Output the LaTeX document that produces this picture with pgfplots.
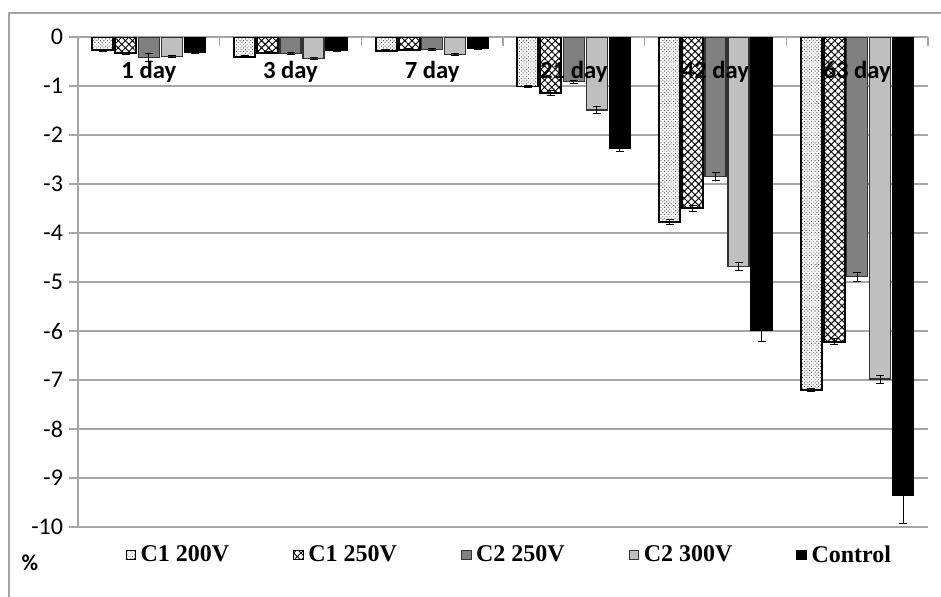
\documentclass[border=0pt]{standalone}
\usepackage{pgfplots}
\pgfplotsset{compat=1.18}
\usepackage{pgfplotstable}
\usetikzlibrary{patterns.meta}
\usepackage{fontspec}
\setmainfont{Carlito}
\newfontfamily\legendfont{Liberation Serif}

\pgfplotstableread{
x y e
0 -0.27 0.02
1 -0.40 0.02
2 -0.28 0.02
3 -1.01 0.02
4 -3.78 0.05
5 -7.21 0.03
}\dataA
\pgfplotstableread{
x y e
0 -0.33 0.02
1 -0.32 0.02
2 -0.26 0.02
3 -1.14 0.05
4 -3.49 0.06
5 -6.22 0.06
}\dataB
\pgfplotstableread{
x y e
0 -0.41 0.08
1 -0.34 0.02
2 -0.25 0.02
3 -0.91 0.03
4 -2.85 0.08
5 -4.89 0.09
}\dataC
\pgfplotstableread{
x y e
0 -0.39 0.02
1 -0.44 0.02
2 -0.36 0.02
3 -1.49 0.07
4 -4.69 0.08
5 -6.98 0.08
}\dataD
\pgfplotstableread{
x y e
0 -0.31 0.03
1 -0.27 0.02
2 -0.23 0.02
3 -2.27 0.06
4 -5.98 0.23
5 -9.35 0.57
}\dataE

\definecolor{gridgray}{HTML}{A6A6A6}
\definecolor{midgray}{HTML}{808080}
\definecolor{lightgray}{HTML}{BFBFBF}

\begin{document}
\begin{tikzpicture}
\path[use as bounding box] (-58.5pt,-419.25pt) rectangle (647.25pt,27.75pt);
\draw[gridgray, line width=1.1pt] (-51.75pt,-430pt) -- (-51.75pt,18pt) -- (660pt,18pt);
\begin{axis}[
  at={(0,0)}, anchor=north west,
  scale only axis,
  width=637.5pt, height=367.5pt,
  xmin=-0.5, xmax=5.5,
  ymin=-10, ymax=0,
  ybar=1.5pt,
  bar width=15.75pt,
  axis x line*=top,
  axis y line*=left,
  x axis line style={-, gridgray, line width=1.1pt},
  y axis line style={-, gridgray, line width=1.1pt},
  xtick={0,1,2,3,4,5},
  xticklabels={},
  major x tick style={draw=none},
  minor xtick={-0.5,0.5,1.5,2.5,3.5,4.5,5.5},
  minor x tick style={gridgray, line width=1.1pt, yshift=-6.75pt},
  minor tick length=6.75pt,
  tick align=outside,
  ytick={-10,-9,-8,-7,-6,-5,-4,-3,-2,-1,0},
  yticklabels={-10,-9,-8,-7,-6,-5,-4,-3,-2,-1,0},
  yticklabel style={font=\fontsize{18}{20}\selectfont, xshift=-1pt},
  major y tick style={gridgray, line width=1.1pt},
  major tick length=6.75pt,
  ymajorgrids,
  major grid style={gridgray, line width=1.1pt},
  legend style={draw=none, fill=none, at={(0.5,0)}, anchor=center, yshift=-21pt, xshift=5pt,
    legend columns=5, font=\legendfont\bfseries\fontsize{18}{20}\selectfont,
    /tikz/every odd column/.append style={column sep=1.5pt},
    /tikz/every even column/.append style={column sep=46pt}},
  legend cell align=left,
  sqleg/.style={legend image code/.code={\draw[##1, line width=0.6pt] (0pt,-3.6pt) rectangle (7.2pt,3.6pt);}},
  error bars/y dir=both,
  error bars/y explicit,
  error bars/error bar style={line width=0.6pt, black},
  error bars/error mark options={rotate=90, line width=0.6pt, black, mark size=3pt},
]
\addplot[sqleg, draw=black, line width=1.4pt, fill=white, postaction={pattern={Dots[angle=45,distance=1.9pt,radius=0.5pt]}, pattern color=black!70}]
  table[x=x, y=y, y error=e] {\dataA};
\addplot[sqleg, draw=black, line width=1.4pt, fill=white, postaction={pattern={Hatch[angle=45,distance=3.8pt,line width=0.7pt]}, pattern color=black}]
  table[x=x, y=y, y error=e] {\dataB};
\addplot[sqleg, draw=black!80, line width=0.8pt, fill=midgray]
  table[x=x, y=y, y error=e] {\dataC};
\addplot[sqleg, draw=black!80, line width=0.8pt, fill=lightgray]
  table[x=x, y=y, y error=e] {\dataD};
\addplot[sqleg, draw=black, line width=0.8pt, fill=black]
  table[x=x, y=y, y error=e] {\dataE};
\legend{C1 200V, C1 250V, C2 250V, C2 300V, Control}
\node[font=\bfseries\fontsize{18.5}{20}\selectfont, anchor=center, yshift=-26pt] at (axis cs:0,0) {1 day};
\node[font=\bfseries\fontsize{18.5}{20}\selectfont, anchor=center, yshift=-26pt] at (axis cs:1,0) {3 day};
\node[font=\bfseries\fontsize{18.5}{20}\selectfont, anchor=center, yshift=-26pt] at (axis cs:2,0) {7 day};
\node[font=\bfseries\fontsize{18.5}{20}\selectfont, anchor=center, yshift=-26pt] at (axis cs:3,0) {21 day};
\node[font=\bfseries\fontsize{18.5}{20}\selectfont, anchor=center, yshift=-26pt] at (axis cs:4,0) {42 day};
\node[font=\bfseries\fontsize{18.5}{20}\selectfont, anchor=center, yshift=-26pt] at (axis cs:5,0) {63 day};
\end{axis}
\node[font=\bfseries\fontsize{17}{18}\selectfont] at (-36pt,-394.5pt) {\%};
\end{tikzpicture}
\end{document}
